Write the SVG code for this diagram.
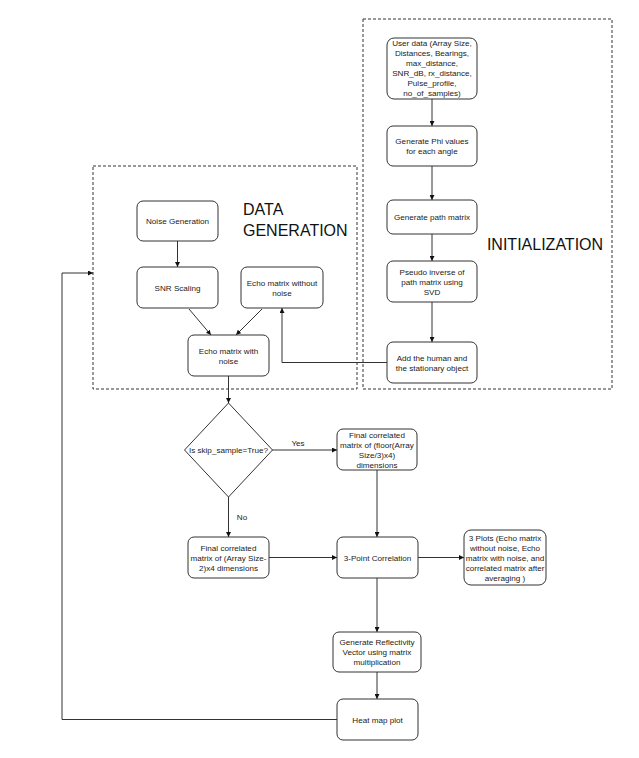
<svg xmlns="http://www.w3.org/2000/svg" width="639" height="758" viewBox="0 0 639 758">
<defs>
<style>
.n{fill:#fff;stroke:#333;stroke-width:1}
.t{font-family:"Liberation Sans",Arial,sans-serif;font-size:8.1px;fill:#222;text-anchor:middle}
.big{font-family:"Liberation Sans",Arial,sans-serif;font-size:16px;fill:#111}
.c{fill:none;stroke:#333;stroke-width:1}
.d{fill:none;stroke:#333;stroke-width:1;stroke-dasharray:3 2}
</style>
<marker id="ah" viewBox="0 0 10 10" refX="10" refY="5" markerWidth="5" markerHeight="5" markerUnits="userSpaceOnUse" orient="auto">
<path d="M0,0 L10,5 L0,10 z" fill="#111"/>
</marker>
</defs>
<rect width="639" height="758" fill="#fff"/>

<g id="init-region">
<rect class="d" x="363" y="19" width="249" height="370"/>
<text class="big" x="545" y="250" text-anchor="middle">INITIALIZATION</text>
</g>
<g id="datagen-region">
<rect class="d" x="93" y="166" width="264" height="223"/>
<text class="big" x="243" y="215">DATA</text>
<text class="big" x="243" y="236">GENERATION</text>
</g>

<g id="connectors">
<line class="c" x1="432" y1="99" x2="432" y2="126" marker-end="url(#ah)"/>
<line class="c" x1="432" y1="166" x2="432" y2="200" marker-end="url(#ah)"/>
<line class="c" x1="432" y1="234" x2="432" y2="261" marker-end="url(#ah)"/>
<line class="c" x1="432" y1="302" x2="432" y2="342" marker-end="url(#ah)"/>
<line class="c" x1="177.5" y1="241" x2="177.5" y2="267" marker-end="url(#ah)"/>
<line class="c" x1="189" y1="309" x2="211" y2="335" marker-end="url(#ah)"/>
<line class="c" x1="262" y1="309" x2="236" y2="335" marker-end="url(#ah)"/>
<polyline class="c" points="387,362.5 282,362.5 282,308" marker-end="url(#ah)"/>
<line class="c" x1="228.5" y1="376" x2="228.5" y2="403" marker-end="url(#ah)"/>
<line class="c" x1="272" y1="450" x2="337" y2="450" marker-end="url(#ah)"/>
<text class="t" x="298" y="446">Yes</text>
<line class="c" x1="228.5" y1="497" x2="228.5" y2="537" marker-end="url(#ah)"/>
<text class="t" x="242" y="520">No</text>
<line class="c" x1="377" y1="470" x2="377" y2="537" marker-end="url(#ah)"/>
<line class="c" x1="269" y1="557.5" x2="337" y2="557.5" marker-end="url(#ah)"/>
<line class="c" x1="418" y1="557.5" x2="464" y2="557.5" marker-end="url(#ah)"/>
<line class="c" x1="377" y1="578" x2="377" y2="632" marker-end="url(#ah)"/>
<line class="c" x1="377" y1="672" x2="377" y2="699" marker-end="url(#ah)"/>
<polyline class="c" points="337,719.5 62,719.5 62,273 93,273" marker-end="url(#ah)"/>
</g>

<g id="user-data">
<rect class="n" x="387" y="38" width="90" height="61" rx="7"/>
<text class="t" x="432" y="46"><tspan x="432">User data (Array Size,</tspan><tspan x="432" dy="10">Distances, Bearings,</tspan><tspan x="432" dy="10">max_distance,</tspan><tspan x="432" dy="10">SNR_dB, rx_distance,</tspan><tspan x="432" dy="10">Pulse_profile,</tspan><tspan x="432" dy="10">no_of_samples)</tspan></text>
</g>
<g id="phi">
<rect class="n" x="387" y="126" width="90" height="40" rx="6"/>
<text class="t" x="432" y="144"><tspan x="432">Generate Phi values</tspan><tspan x="432" dy="10">for each angle</tspan></text>
</g>
<g id="path-matrix">
<rect class="n" x="387" y="200" width="90" height="34" rx="6"/>
<text class="t" x="432" y="220">Generate path matrix</text>
</g>
<g id="pseudo-inverse">
<rect class="n" x="387" y="261" width="90" height="41" rx="6"/>
<text class="t" x="432" y="274.5"><tspan x="432">Pseudo inverse of</tspan><tspan x="432" dy="10">path matrix using</tspan><tspan x="432" dy="10">SVD</tspan></text>
</g>
<g id="add-objects">
<rect class="n" x="387" y="342" width="90" height="41" rx="6"/>
<text class="t" x="432" y="360.5"><tspan x="432">Add the human and</tspan><tspan x="432" dy="10">the stationary object</tspan></text>
</g>

<g id="noise-gen">
<rect class="n" x="137" y="201" width="81" height="40" rx="6"/>
<text class="t" x="177.5" y="224">Noise Generation</text>
</g>
<g id="snr-scaling">
<rect class="n" x="137" y="267" width="81" height="41" rx="6"/>
<text class="t" x="177.5" y="290.5">SNR Scaling</text>
</g>
<g id="echo-without-noise">
<rect class="n" x="241" y="267" width="82" height="41" rx="6"/>
<text class="t" x="282" y="285.5"><tspan x="282">Echo matrix without</tspan><tspan x="282" dy="10">noise</tspan></text>
</g>
<g id="echo-with-noise">
<rect class="n" x="188" y="335" width="81" height="41" rx="6"/>
<text class="t" x="228.5" y="353.5"><tspan x="228.5">Echo matrix with</tspan><tspan x="228.5" dy="10">noise</tspan></text>
</g>

<g id="decision">
<polygon class="n" points="228.5,403 272.5,450 228.5,497 184.5,450"/>
<text class="t" x="228.5" y="453">Is skip_sample=True?</text>
</g>
<g id="final-floor">
<rect class="n" x="337" y="429" width="80" height="41" rx="6"/>
<text class="t" x="377" y="437.5"><tspan x="377">Final correlated</tspan><tspan x="377" dy="10">matrix of (floor(Array</tspan><tspan x="377" dy="10">Size/3)x4)</tspan><tspan x="377" dy="10">dimensions</tspan></text>
</g>
<g id="final-array">
<rect class="n" x="188" y="537" width="81" height="41" rx="6"/>
<text class="t" x="228.5" y="550.5"><tspan x="228.5">Final correlated</tspan><tspan x="228.5" dy="10">matrix of (Array Size-</tspan><tspan x="228.5" dy="10">2)x4 dimensions</tspan></text>
</g>
<g id="three-point">
<rect class="n" x="337" y="537" width="81" height="41" rx="6"/>
<text class="t" x="377.5" y="560.5">3-Point Correlation</text>
</g>
<g id="plots">
<rect class="n" x="464" y="530" width="82" height="55" rx="7"/>
<text class="t" x="505" y="540.5"><tspan x="505">3 Plots (Echo matrix</tspan><tspan x="505" dy="10">without noise, Echo</tspan><tspan x="505" dy="10">matrix with noise, and</tspan><tspan x="505" dy="10">correlated matrix after</tspan><tspan x="505" dy="10">averaging )</tspan></text>
</g>
<g id="reflectivity">
<rect class="n" x="333" y="632" width="88" height="40" rx="6"/>
<text class="t" x="377" y="645"><tspan x="377">Generate Reflectivity</tspan><tspan x="377" dy="10">Vector using matrix</tspan><tspan x="377" dy="10">multiplication</tspan></text>
</g>
<g id="heat-map">
<rect class="n" x="337" y="699" width="81" height="41" rx="6"/>
<text class="t" x="377.5" y="722.5">Heat map plot</text>
</g>
</svg>
